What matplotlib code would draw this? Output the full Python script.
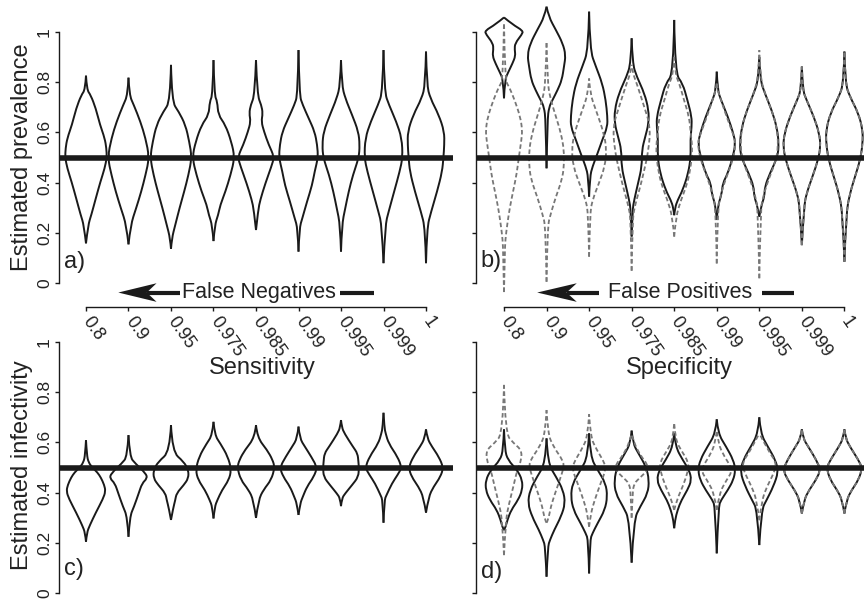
import matplotlib
matplotlib.use('Agg')
import matplotlib.pyplot as plt
from matplotlib.path import Path
from matplotlib.patches import PathPatch, Polygon

plt.rcParams['font.family'] = ['Liberation Sans', 'DejaVu Sans']

# x categories (sensitivity / specificity levels)
levels = ['0.8', '0.9', '0.95', '0.975', '0.985', '0.99', '0.995', '0.999', '1']
true_value = 0.5

# violin outlines: (estimate, half width) pairs, bottom to top
prev_sens = [
    [(0.158, 0), (0.231, 0.05), (0.271, 0.125), (0.337, 0.23), (0.404, 0.34), (0.457, 0.44), (0.5, 0.49), (0.537, 0.48), (0.577, 0.44), (0.63, 0.33), (0.696, 0.23), (0.749, 0.11), (0.77, 0.02), (0.826, 0)],
    [(0.154, 0), (0.231, 0.05), (0.298, 0.18), (0.364, 0.3), (0.43, 0.4), (0.5, 0.49), (0.577, 0.4), (0.643, 0.28), (0.709, 0.125), (0.749, 0.02), (0.818, 0)],
    [(0.136, 0), (0.178, 0.02), (0.231, 0.1), (0.298, 0.2), (0.364, 0.31), (0.43, 0.41), (0.5, 0.49), (0.563, 0.43), (0.63, 0.34), (0.683, 0.18), (0.723, 0.02), (0.869, 0)],
    [(0.167, 0), (0.231, 0.03), (0.271, 0.11), (0.311, 0.16), (0.364, 0.28), (0.43, 0.4), (0.5, 0.5), (0.563, 0.42), (0.63, 0.28), (0.67, 0.11), (0.723, 0.09), (0.749, 0.02), (0.888, 0)],
    [(0.211, 0), (0.29, 0.05), (0.331, 0.1), (0.397, 0.22), (0.463, 0.36), (0.503, 0.43), (0.55, 0.3), (0.603, 0.19), (0.643, 0.125), (0.676, 0.16), (0.709, 0.125), (0.749, 0.03), (0.888, 0)],
    [(0.125, 0), (0.218, 0.02), (0.258, 0.09), (0.324, 0.2), (0.39, 0.32), (0.444, 0.38), (0.5, 0.46), (0.55, 0.44), (0.603, 0.38), (0.656, 0.24), (0.709, 0.1), (0.749, 0.02), (0.928, 0)],
    [(0.125, 0), (0.231, 0.02), (0.298, 0.1), (0.364, 0.18), (0.43, 0.28), (0.5, 0.42), (0.55, 0.44), (0.603, 0.41), (0.67, 0.26), (0.736, 0.1), (0.789, 0.02), (0.888, 0)],
    [(0.079, 0), (0.231, 0.04), (0.284, 0.12), (0.364, 0.25), (0.444, 0.38), (0.5, 0.45), (0.577, 0.43), (0.643, 0.3), (0.709, 0.13), (0.762, 0.02), (0.928, 0)],
    [(0.079, 0), (0.218, 0.02), (0.284, 0.12), (0.364, 0.26), (0.444, 0.38), (0.5, 0.41), (0.55, 0.43), (0.603, 0.43), (0.67, 0.3), (0.736, 0.1), (0.789, 0.02), (0.922, 0)],
]

prev_spec = [
    [(0.736, 0), (0.81, 0.02), (0.84, 0.1), (0.875, 0.2), (0.905, 0.27), (0.93, 0.25), (0.955, 0.26), (0.99, 0.42), (1.005, 0.45), (1.03, 0.2), (1.058, 0)],
    [(0.457, 0), (0.649, 0.02), (0.702, 0.06), (0.729, 0.14), (0.769, 0.26), (0.809, 0.36), (0.862, 0.41), (0.908, 0.45), (0.955, 0.38), (1.008, 0.22), (1.061, 0.05), (1.101, 0)],
    [(0.344, 0), (0.424, 0.02), (0.464, 0.08), (0.517, 0.2), (0.57, 0.31), (0.623, 0.43), (0.663, 0.43), (0.729, 0.39), (0.795, 0.31), (0.862, 0.16), (0.928, 0.02), (1.081, 0)],
    [(0.185, 0), (0.291, 0.02), (0.331, 0.06), (0.397, 0.15), (0.464, 0.24), (0.53, 0.24), (0.583, 0.32), (0.636, 0.4), (0.689, 0.4), (0.756, 0.3), (0.822, 0.12), (0.875, 0.02), (0.975, 0)],
    [(0.27, 0), (0.3, 0.02), (0.33, 0.08), (0.37, 0.2), (0.437, 0.33), (0.503, 0.39), (0.57, 0.38), (0.623, 0.41), (0.663, 0.41), (0.729, 0.31), (0.795, 0.2), (0.835, 0.02), (1.048, 0)],
    [(0.251, 0), (0.304, 0.02), (0.357, 0.12), (0.397, 0.14), (0.437, 0.26), (0.503, 0.38), (0.556, 0.44), (0.596, 0.39), (0.663, 0.26), (0.729, 0.1), (0.769, 0.02), (0.842, 0)],
    [(0.264, 0), (0.304, 0.04), (0.344, 0.12), (0.384, 0.13), (0.437, 0.25), (0.503, 0.43), (0.556, 0.46), (0.623, 0.41), (0.689, 0.29), (0.756, 0.13), (0.809, 0.02), (0.9, 0)],
    [(0.151, 0), (0.304, 0.05), (0.357, 0.11), (0.424, 0.25), (0.49, 0.38), (0.543, 0.44), (0.596, 0.41), (0.663, 0.28), (0.729, 0.11), (0.769, 0.02), (0.862, 0)],
    [(0.085, 0), (0.277, 0.04), (0.357, 0.13), (0.424, 0.25), (0.49, 0.37), (0.556, 0.43), (0.61, 0.43), (0.676, 0.33), (0.742, 0.13), (0.795, 0.02), (0.922, 0)],
]

prev_spec_dash = [
    [(-0.036, 0), (0.118, 0.02), (0.171, 0.03), (0.238, 0.08), (0.304, 0.14), (0.37, 0.22), (0.437, 0.3), (0.503, 0.35), (0.57, 0.41), (0.61, 0.43), (0.663, 0.38), (0.729, 0.25), (0.782, 0.12), (0.81, 0.02), (1.041, 0)],
    [(0.005, 0), (0.224, 0.02), (0.277, 0.1), (0.344, 0.22), (0.41, 0.36), (0.464, 0.41), (0.53, 0.41), (0.596, 0.34), (0.663, 0.22), (0.729, 0.1), (0.795, 0.02), (0.961, 0)],
    [(0.105, 0), (0.277, 0.02), (0.331, 0.08), (0.397, 0.23), (0.464, 0.37), (0.53, 0.41), (0.596, 0.35), (0.689, 0.16), (0.756, 0.02), (0.815, 0)],
    [(0.049, 0), (0.251, 0.02), (0.304, 0.07), (0.37, 0.18), (0.437, 0.28), (0.53, 0.4), (0.623, 0.44), (0.689, 0.32), (0.795, 0.12), (0.84, 0.02), (0.869, 0)],
    [(0.185, 0), (0.264, 0.04), (0.331, 0.16), (0.397, 0.31), (0.464, 0.39), (0.53, 0.43), (0.596, 0.39), (0.663, 0.35), (0.729, 0.23), (0.795, 0.12), (0.835, 0.02), (0.9, 0)],
    [(0.078, 0), (0.291, 0.02), (0.357, 0.1), (0.424, 0.23), (0.49, 0.38), (0.556, 0.45), (0.596, 0.38), (0.663, 0.23), (0.729, 0.1), (0.769, 0.02), (0.8, 0)],
    [(0.019, 0), (0.291, 0.03), (0.344, 0.09), (0.41, 0.21), (0.477, 0.37), (0.543, 0.45), (0.623, 0.41), (0.689, 0.29), (0.756, 0.13), (0.822, 0.02), (0.928, 0)],
    [(0.151, 0), (0.304, 0.05), (0.357, 0.11), (0.424, 0.25), (0.49, 0.38), (0.543, 0.44), (0.596, 0.41), (0.663, 0.28), (0.729, 0.11), (0.769, 0.02), (0.862, 0)],
    [(0.085, 0), (0.277, 0.04), (0.357, 0.13), (0.424, 0.25), (0.49, 0.37), (0.556, 0.43), (0.61, 0.43), (0.676, 0.33), (0.742, 0.13), (0.795, 0.02), (0.922, 0)],
]

inf_sens = [
    [(0.204, 0), (0.24, 0.02), (0.27, 0.09), (0.32, 0.23), (0.375, 0.4), (0.405, 0.46), (0.43, 0.43), (0.46, 0.35), (0.48, 0.27), (0.5, 0.15), (0.52, 0.06), (0.55, 0.02), (0.609, 0)],
    [(0.224, 0), (0.304, 0.03), (0.344, 0.13), (0.397, 0.24), (0.437, 0.32), (0.457, 0.44), (0.476, 0.41), (0.516, 0.16), (0.543, 0.03), (0.629, 0)],
    [(0.291, 0), (0.337, 0.05), (0.37, 0.1), (0.397, 0.13), (0.43, 0.3), (0.457, 0.41), (0.49, 0.41), (0.523, 0.3), (0.563, 0.03), (0.669, 0)],
    [(0.297, 0), (0.344, 0.03), (0.37, 0.09), (0.41, 0.2), (0.45, 0.36), (0.49, 0.42), (0.543, 0.34), (0.596, 0.16), (0.629, 0.03), (0.682, 0)],
    [(0.299, 0), (0.372, 0.06), (0.412, 0.18), (0.451, 0.36), (0.5, 0.44), (0.531, 0.39), (0.57, 0.26), (0.62, 0.03), (0.669, 0)],
    [(0.311, 0), (0.357, 0.04), (0.383, 0.1), (0.424, 0.2), (0.463, 0.36), (0.5, 0.44), (0.543, 0.3), (0.583, 0.15), (0.616, 0.03), (0.663, 0)],
    [(0.346, 0), (0.377, 0.02), (0.397, 0.1), (0.43, 0.26), (0.463, 0.41), (0.5, 0.42), (0.523, 0.41), (0.556, 0.39), (0.583, 0.28), (0.636, 0.08), (0.66, 0.02), (0.689, 0)],
    [(0.28, 0), (0.37, 0.02), (0.39, 0.07), (0.437, 0.2), (0.47, 0.33), (0.5, 0.43), (0.543, 0.33), (0.596, 0.12), (0.636, 0.05), (0.66, 0.02), (0.718, 0)],
    [(0.32, 0), (0.383, 0.06), (0.424, 0.18), (0.463, 0.34), (0.5, 0.41), (0.543, 0.3), (0.583, 0.14), (0.616, 0.03), (0.652, 0)],
]

inf_spec = [
    [(0.25, 0), (0.264, 0.04), (0.291, 0.08), (0.331, 0.17), (0.37, 0.33), (0.41, 0.43), (0.45, 0.43), (0.49, 0.31), (0.53, 0.09), (0.57, 0.02), (0.652, 0)],
    [(0.065, 0), (0.185, 0.03), (0.211, 0.08), (0.251, 0.18), (0.304, 0.34), (0.357, 0.44), (0.41, 0.39), (0.464, 0.22), (0.517, 0.03), (0.616, 0)],
    [(0.078, 0), (0.211, 0.02), (0.238, 0.08), (0.278, 0.2), (0.331, 0.37), (0.384, 0.43), (0.437, 0.39), (0.49, 0.2), (0.543, 0.03), (0.636, 0)],
    [(0.121, 0), (0.291, 0.05), (0.344, 0.2), (0.397, 0.38), (0.45, 0.41), (0.503, 0.34), (0.556, 0.16), (0.596, 0.03), (0.647, 0)],
    [(0.258, 0), (0.291, 0.02), (0.331, 0.08), (0.37, 0.17), (0.41, 0.31), (0.45, 0.41), (0.49, 0.35), (0.53, 0.2), (0.583, 0.03), (0.636, 0)],
    [(0.158, 0), (0.344, 0.04), (0.37, 0.1), (0.41, 0.26), (0.45, 0.39), (0.49, 0.44), (0.53, 0.39), (0.583, 0.22), (0.636, 0.03), (0.692, 0)],
    [(0.191, 0), (0.331, 0.05), (0.37, 0.17), (0.424, 0.33), (0.483, 0.45), (0.53, 0.38), (0.583, 0.2), (0.636, 0.03), (0.7, 0)],
    [(0.317, 0), (0.37, 0.05), (0.41, 0.17), (0.45, 0.33), (0.49, 0.44), (0.53, 0.34), (0.583, 0.15), (0.616, 0.03), (0.652, 0)],
    [(0.317, 0), (0.37, 0.05), (0.41, 0.17), (0.45, 0.33), (0.497, 0.42), (0.53, 0.33), (0.583, 0.13), (0.616, 0.03), (0.652, 0)],
]

inf_spec_dash = [
    [(0.151, 0), (0.291, 0.04), (0.357, 0.12), (0.424, 0.22), (0.49, 0.31), (0.53, 0.41), (0.57, 0.41), (0.596, 0.23), (0.636, 0.03), (0.829, 0)],
    [(0.28, 0), (0.291, 0.04), (0.344, 0.1), (0.397, 0.2), (0.45, 0.31), (0.503, 0.41), (0.53, 0.38), (0.583, 0.16), (0.636, 0.03), (0.729, 0)],
    [(0.264, 0), (0.317, 0.04), (0.37, 0.13), (0.437, 0.27), (0.49, 0.39), (0.517, 0.37), (0.57, 0.18), (0.623, 0.03), (0.713, 0)],
    [(0.3, 0), (0.4, 0.02), (0.437, 0.06), (0.46, 0.2), (0.49, 0.38), (0.51, 0.38), (0.55, 0.2), (0.6, 0.05), (0.636, 0)],
    [(0.331, 0), (0.37, 0.06), (0.424, 0.2), (0.477, 0.31), (0.517, 0.35), (0.57, 0.16), (0.61, 0.03), (0.676, 0)],
    [(0.331, 0), (0.397, 0.06), (0.45, 0.23), (0.49, 0.38), (0.543, 0.18), (0.596, 0.03), (0.649, 0)],
    [(0.29, 0), (0.37, 0.06), (0.424, 0.18), (0.477, 0.34), (0.517, 0.41), (0.57, 0.2), (0.636, 0)],
    [(0.317, 0), (0.37, 0.05), (0.41, 0.17), (0.45, 0.33), (0.49, 0.44), (0.53, 0.34), (0.583, 0.15), (0.616, 0.03), (0.652, 0)],
    [(0.317, 0), (0.37, 0.05), (0.41, 0.17), (0.45, 0.33), (0.497, 0.42), (0.53, 0.33), (0.583, 0.13), (0.616, 0.03), (0.652, 0)],
]

INK = '#1a1a1a'
TXT = '#222222'
GREY = '#777777'
W, H = 864, 600


def side_path(pts):
    # quadratic b-spline through the outline knots
    verts = [pts[0]]
    codes = [Path.MOVETO]
    for i in range(1, len(pts) - 1):
        if i < len(pts) - 2:
            end = ((pts[i][0] + pts[i + 1][0]) / 2, (pts[i][1] + pts[i + 1][1]) / 2)
        else:
            end = pts[-1]
        verts += [pts[i], end]
        codes += [Path.CURVE3, Path.CURVE3]
    return Path(verts, codes)


def violin(ax, x0, knots, **kw):
    for s in (1, -1):
        pts = [(x0 + s * w, v) for v, w in knots]
        ax.add_patch(PathPatch(side_path(pts), facecolor='none', clip_on=False, **kw))


def panel(ax_px, xlim):
    left, top, right, bottom = ax_px
    ax = fig.add_axes([left / W, 1 - bottom / H, (right - left) / W, (bottom - top) / H])
    ax.patch.set_visible(False)
    ax.set_xlim(*xlim)
    ax.set_ylim(0, 1)
    for s in ('top', 'right'):
        ax.spines[s].set_visible(False)
    ax.spines['left'].set_linewidth(1.0)
    ax.spines['left'].set_color(INK)
    ax.tick_params(axis='both', direction='out', length=3, width=1.0,
                   color=INK, labelsize=12.5, labelcolor=TXT)
    ax.set_yticks([0, 0.2, 0.4, 0.6, 0.8, 1.0], ['0', '0.2', '0.4', '0.6', '0.8', '1'])
    for lab in ax.get_yticklabels():
        lab.set_rotation(90)
        lab.set_va('center')
    ax.tick_params(axis='y', pad=2)
    ax.axhline(true_value, color=INK, lw=4, zorder=5, solid_capstyle='round')
    return ax


def arrow_note(ax, tip, notch, back, shaft_end, text_x, text, bar):
    y = -0.038
    ax.add_patch(Polygon([(tip, y), (back, y + 0.037), (notch, y), (back, y - 0.037)],
                         closed=True, color=INK, clip_on=False, lw=0))
    ax.plot([notch, shaft_end], [y, y], color=INK, lw=3.0, clip_on=False, solid_capstyle='butt')
    ax.text(text_x, -0.0586, text, ha='center', va='baseline', fontsize=15.5, color=TXT)
    ax.plot(bar, [y, y], color=INK, lw=3.0, clip_on=False, solid_capstyle='butt')


fig = plt.figure(figsize=(8.64, 6), dpi=100)

ax_a = panel((59, 32, 453, 283), (0.365, 9.635))
ax_b = panel((476, 32, 872.4, 283), (0.342, 9.658))
ax_c = panel((59, 342, 453, 593), (0.365, 9.635))
ax_d = panel((476, 342, 872.4, 593), (0.342, 9.658))

for ax in (ax_b, ax_d):
    ax.tick_params(axis='y', labelleft=False)

# bottom category axis for top panels
for ax in (ax_a, ax_b):
    ax.spines['bottom'].set_position(('outward', 17.6))
    ax.spines['bottom'].set_bounds(1, 9)
    ax.spines['bottom'].set_linewidth(1.0)
    ax.spines['bottom'].set_color(INK)
    ax.set_xticks(range(1, 10), levels)
    ax.tick_params(axis='x', pad=5.0, labelsize=13)
    for lab in ax.get_xticklabels():
        lab.set_rotation(-55)
        lab.set_ha('left')
        lab.set_va('center')
        lab.set_rotation_mode('anchor')

for ax in (ax_c, ax_d):
    ax.spines['bottom'].set_visible(False)
    ax.set_xticks([])

solid = dict(edgecolor=INK, lw=1.4, zorder=3)
dashed = dict(edgecolor=GREY, lw=1.3, linestyle=(0, (2.5, 1.5)), zorder=4)

for i in range(9):
    violin(ax_a, i + 1, prev_sens[i], **solid)
    violin(ax_b, i + 1, prev_spec[i], **solid)
    violin(ax_b, i + 1, prev_spec_dash[i], **dashed)
    violin(ax_c, i + 1, inf_sens[i], **solid)
    violin(ax_d, i + 1, inf_spec[i], **solid)
    violin(ax_d, i + 1, inf_spec_dash[i], **dashed)

arrow_note(ax_a, 1.76, 2.43, 2.66, 3.21, 5.08, 'False Negatives', [6.98, 7.78])
arrow_note(ax_b, 1.78, 2.47, 2.71, 3.24, 5.14, 'False Positives', [7.06, 7.82])

for ax, lab, yy in ((ax_a, 'a)', 0.085), (ax_b, 'b)', 0.088), (ax_c, 'c)', 0.095), (ax_d, 'd)', 0.085)):
    ax.text(0.012, yy, lab, transform=ax.transAxes, ha='left', va='center', fontsize=17, color=TXT)

fig.text(22 / W, 1 - 157.5 / H, 'Estimated prevalence', rotation=90, ha='center', va='center', fontsize=17, color=TXT)
fig.text(22 / W, 1 - 465 / H, 'Estimated infectivity', rotation=90, ha='center', va='center', fontsize=17, color=TXT)
fig.text(262 / W, 1 - 368 / H, 'Sensitivity', ha='center', va='center', fontsize=17, color=TXT)
fig.text(679 / W, 1 - 368 / H, 'Specificity', ha='center', va='center', fontsize=17, color=TXT)

fig.savefig('out.png', dpi=100, facecolor='white')
